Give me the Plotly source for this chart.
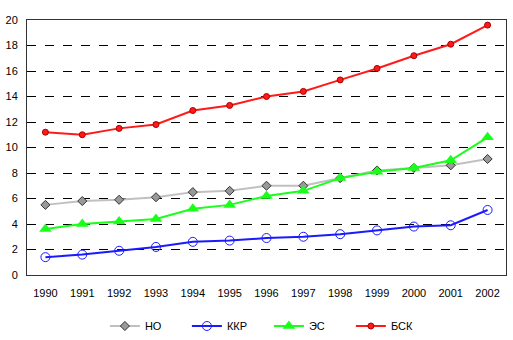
import plotly.graph_objects as go

years = ["1990", "1991", "1992", "1993", "1994", "1995", "1996",
         "1997", "1998", "1999", "2000", "2001", "2002"]
no_vals = [5.5, 5.8, 5.9, 6.1, 6.5, 6.6, 7.0, 7.0, 7.6, 8.2, 8.4, 8.6, 9.1]
kkr_vals = [1.4, 1.6, 1.9, 2.2, 2.6, 2.7, 2.9, 3.0, 3.2, 3.5, 3.8, 3.9, 5.1]
es_vals = [3.6, 4.0, 4.2, 4.4, 5.2, 5.5, 6.2, 6.6, 7.6, 8.1, 8.4, 9.0, 10.8]
bsk_vals = [11.2, 11.0, 11.5, 11.8, 12.9, 13.3, 14.0, 14.4, 15.3, 16.2, 17.2, 18.1, 19.6]
y_ticks = [0, 2, 4, 6, 8, 10, 12, 14, 16, 18, 20]

fig = go.Figure()
fig.add_trace(go.Scatter(
    x=years, y=no_vals, name="НО", mode="lines+markers",
    line=dict(color="#c0c0c0", width=2),
    marker=dict(symbol="diamond", size=7, color="#999999",
                line=dict(color="#333333", width=1))))
fig.add_trace(go.Scatter(
    x=years, y=kkr_vals, name="ККР", mode="lines+markers",
    line=dict(color="#1a1aff", width=2),
    marker=dict(symbol="circle-open", size=9, color="#1a1aff",
                line=dict(color="#1a1aff", width=1))))
fig.add_trace(go.Scatter(
    x=years, y=es_vals, name="ЭС", mode="lines+markers",
    line=dict(color="#1aff1a", width=2),
    marker=dict(symbol="triangle-up", size=11, color="#1aff1a",
                line=dict(color="#1aff1a", width=0))))
fig.add_trace(go.Scatter(
    x=years, y=bsk_vals, name="БСК", mode="lines+markers",
    line=dict(color="#ff1a1a", width=2),
    marker=dict(symbol="circle", size=6, color="#ff1a1a",
                line=dict(color="#aa0000", width=1))))

fig.update_layout(
    width=513, height=340,
    margin=dict(l=27, r=7, t=20, b=65, autoexpand=False),
    paper_bgcolor="white", plot_bgcolor="white",
    font=dict(family="Liberation Sans, Arial, sans-serif", size=11, color="black"),
    showlegend=True,
    legend=dict(orientation="h", x=0.505, xanchor="center", y=-0.2, yanchor="middle",
                font=dict(size=11), itemwidth=30, traceorder="normal",
                entrywidth=37, entrywidthmode="pixels"),
    xaxis=dict(
        type="category", range=[-0.5, 12.5], showgrid=False,
        showline=True, linecolor="#333333", linewidth=1, mirror=True,
        ticks="", ticklabelstandoff=8, zeroline=False, automargin=False),
    yaxis=dict(
        range=[0, 20], tickvals=y_ticks, showgrid=True,
        gridcolor="black", griddash="dash", gridwidth=1,
        showline=True, linecolor="#333333", linewidth=1, mirror=True,
        ticks="", ticklabelstandoff=6, zeroline=False, automargin=False),
)

fig.write_html("out.html")
